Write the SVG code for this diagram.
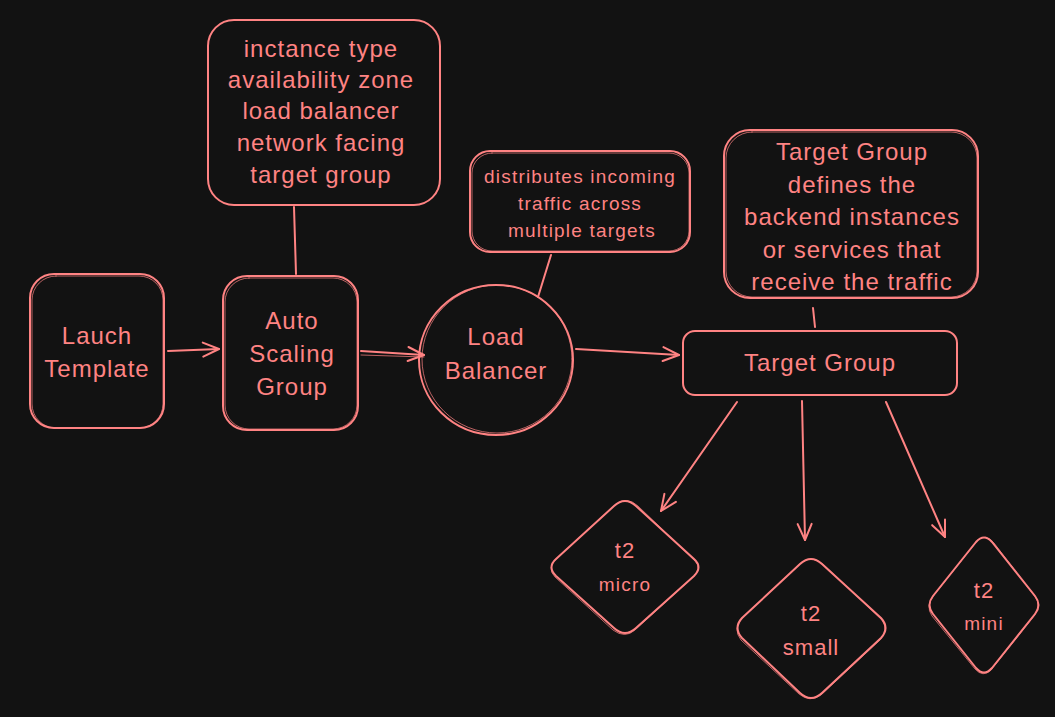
<svg xmlns="http://www.w3.org/2000/svg" width="1055" height="717" viewBox="0 0 1055 717">
<style>
.s{fill:none;stroke:#ff8383;stroke-width:2;stroke-linecap:round;stroke-linejoin:round}
.s2{fill:none;stroke:#ff8383;stroke-width:1;stroke-opacity:0.7;stroke-linecap:round}
.t{fill:#ff8383;font-family:"Liberation Sans",Arial,sans-serif;text-anchor:middle;dominant-baseline:central}
.l{font-size:24px;letter-spacing:1px}
.m{font-size:22px;letter-spacing:1px}
.sm{font-size:19px;letter-spacing:1.2px}
</style>
<defs>
<marker id="ah" viewBox="0 0 20 20" refX="18" refY="10" markerWidth="20" markerHeight="20" markerUnits="userSpaceOnUse" orient="auto">
<path d="M2,3 L18,10 L2,17" fill="none" stroke="#ff8383" stroke-width="2" stroke-linecap="round" stroke-linejoin="round"/>
</marker>
</defs>
<rect width="1055" height="717" fill="#121212"/>
<g id="connectors">
<path class="s" d="M168,351 L219,349" marker-end="url(#ah)"/>
<path class="s" d="M361,351 L424,355" marker-end="url(#ah)"/>
<path class="s2" d="M361,355 L424,357"/>
<path class="s" d="M576,349 L679,355" marker-end="url(#ah)"/>
<path class="s" d="M737,402 L661,511" marker-end="url(#ah)"/>
<path class="s" d="M802,401 L805,540" marker-end="url(#ah)"/>
<path class="s" d="M886,402 L945,537" marker-end="url(#ah)"/>
<path class="s" d="M294,207 L296,274"/>
<path class="s" d="M551,255 L538,297"/>
<path class="s" d="M813,308 L815,327"/>
</g>
<g id="launch-template">
<rect class="s" x="30" y="274" width="134" height="154" rx="24"/>
<rect class="s2" x="32" y="276" width="131" height="152" rx="24"/>
<text class="t l" x="97" y="335">Lauch</text>
<text class="t l" x="97" y="368">Template</text>
</g>
<g id="auto-scaling-group">
<rect class="s" x="223" y="276" width="135" height="154" rx="24"/>
<rect class="s2" x="225" y="278" width="132" height="151" rx="24"/>
<text class="t l" x="292" y="320">Auto</text>
<text class="t l" x="292" y="353">Scaling</text>
<text class="t l" x="292" y="386">Group</text>
</g>
<g id="asg-notes">
<rect class="s" x="208" y="20" width="232" height="185" rx="26"/>
<text class="t l" x="321" y="48">inctance type</text>
<text class="t l" x="321" y="79">availability zone</text>
<text class="t l" x="321" y="110">load balancer</text>
<text class="t l" x="321" y="142">network facing</text>
<text class="t l" x="321" y="174">target group</text>
</g>
<g id="load-balancer">
<ellipse class="s" cx="496" cy="360" rx="77" ry="75"/>
<ellipse class="s2" cx="497" cy="359" rx="75" ry="74"/>
<text class="t l" x="496" y="336">Load</text>
<text class="t l" x="496" y="370">Balancer</text>
</g>
<g id="lb-notes">
<rect class="s" x="470" y="151" width="220" height="101" rx="20"/>
<rect class="s2" x="472" y="153" width="217" height="98" rx="20"/>
<text class="t sm" x="580" y="176">distributes incoming</text>
<text class="t sm" x="580" y="203">traffic across</text>
<text class="t sm" x="582" y="230">multiple targets</text>
</g>
<g id="target-group">
<rect class="s" x="683" y="331" width="274" height="64" rx="12"/>
<text class="t l" x="820" y="362">Target Group</text>
</g>
<g id="tg-notes">
<rect class="s" x="724" y="130" width="254" height="168" rx="26"/>
<rect class="s2" x="726" y="132" width="251" height="165" rx="26"/>
<text class="t l" x="852" y="151">Target Group</text>
<text class="t l" x="852" y="184">defines the</text>
<text class="t l" x="852" y="216">backend instances</text>
<text class="t l" x="852" y="249">or services that</text>
<text class="t l" x="852" y="281">receive the traffic</text>
</g>
<g id="t2-micro">
<path class="s" d="M614,506 Q625,496 636,506 L694,559 Q703,567 694,576 L636,628 Q625,638 614,628 L556,576 Q547,567 556,559 Z"/>
<path class="s2" d="M616,504 Q627,496 638,506 L695,561 Q702,568 693,577 L635,630 Q625,639 613,630 L555,577 Q546,568 557,558 Z"/>
<text class="t m" x="625" y="550">t2</text>
<text class="t sm" x="625" y="584">micro</text>
</g>
<g id="t2-small">
<path class="s" d="M800,564 Q811,554 822,564 L881,618 Q890,628 881,638 L822,693 Q811,703 800,693 L742,638 Q733,628 742,618 Z"/>
<path class="s2" d="M802,562 Q813,555 824,565 L882,620 Q889,629 880,640 L821,695 Q810,703 799,694 L741,640 Q732,629 743,617 Z"/>
<text class="t m" x="811" y="613">t2</text>
<text class="t m" x="811" y="647">small</text>
</g>
<g id="t2-mini">
<path class="s" d="M976,542 Q984,533 992,542 L1035,596 Q1042,605 1035,614 L992,668 Q984,677 976,668 L933,614 Q926,605 933,596 Z"/>
<path class="s2" d="M978,540 Q986,533 994,543 L1036,598 Q1041,606 1034,616 L991,670 Q983,678 975,669 L932,616 Q925,606 934,595 Z"/>
<text class="t m" x="984" y="590">t2</text>
<text class="t sm" x="984" y="623">mini</text>
</g>
</svg>
